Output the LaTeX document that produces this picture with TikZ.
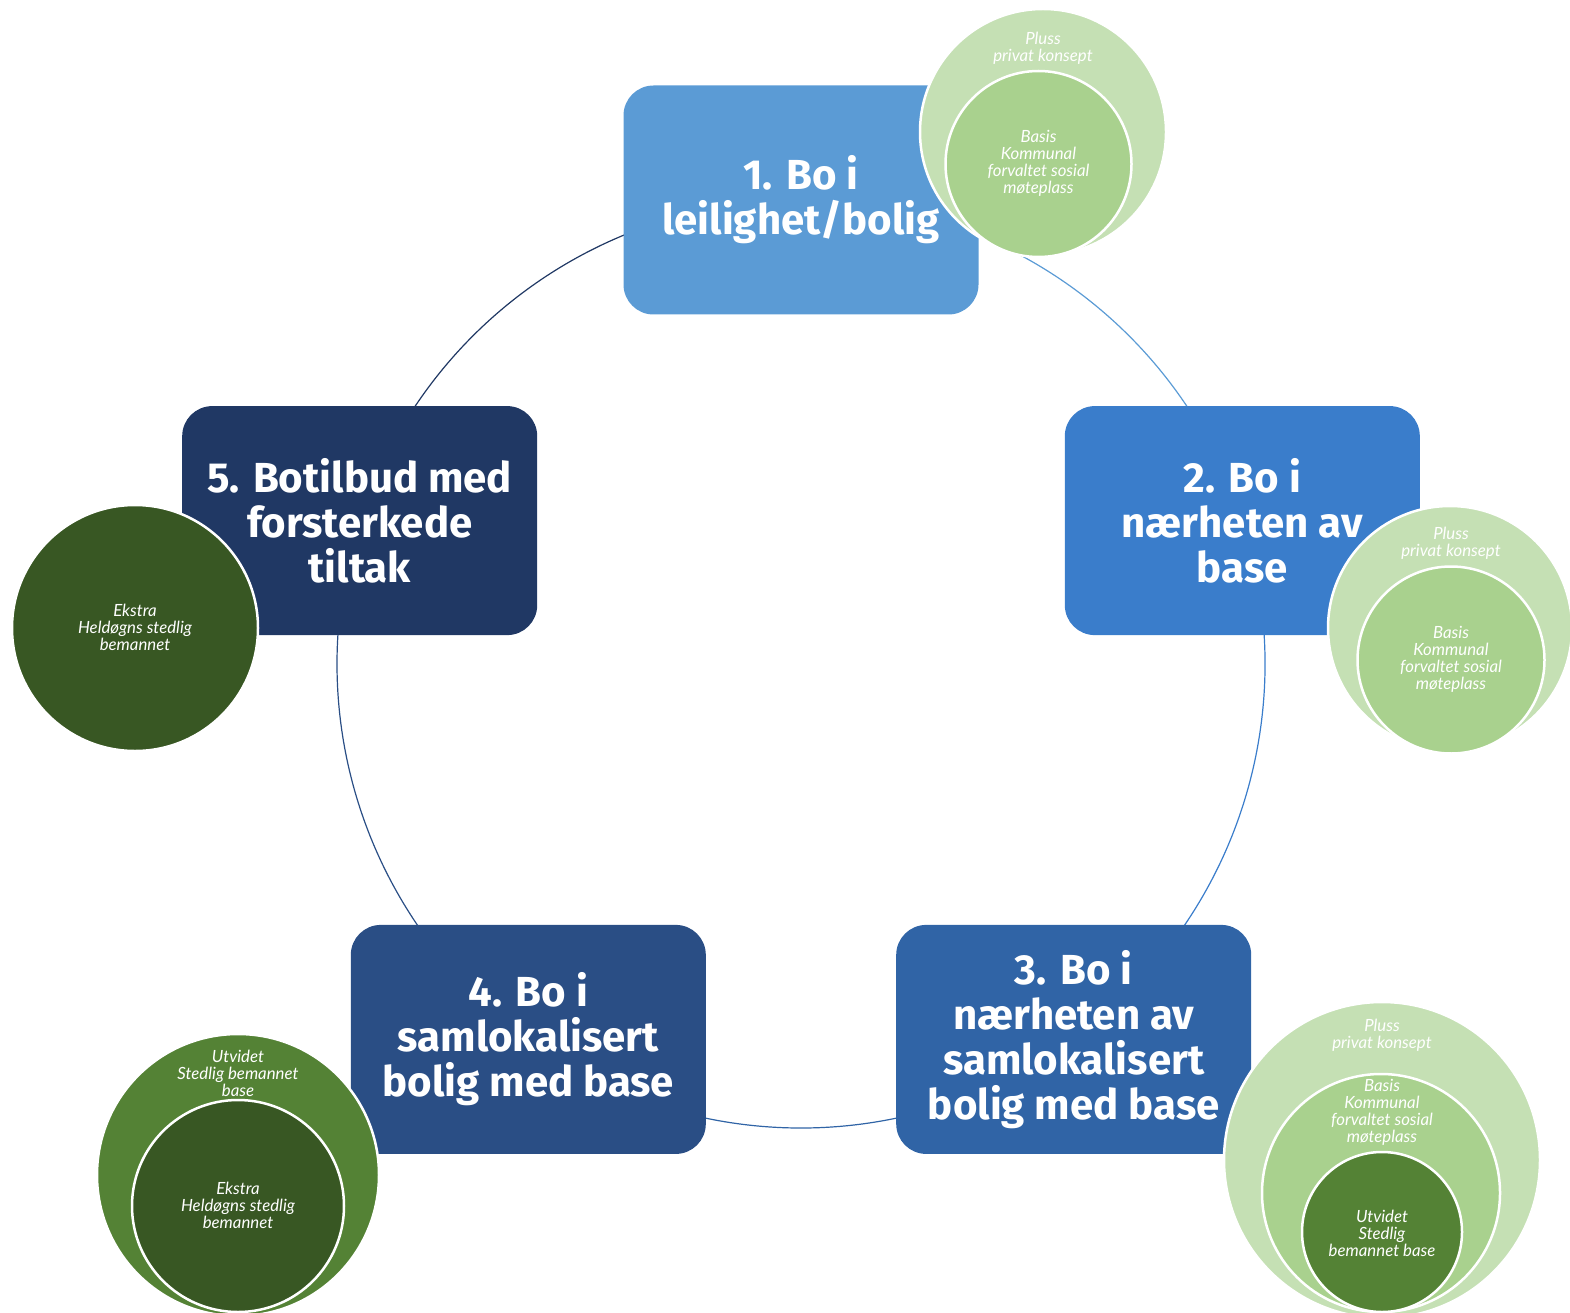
\documentclass[tikz,border=0pt]{standalone}
\usepackage{fontspec}
\setmainfont{Fira Sans}
\newfontfamily\circfont{Lato}
\usetikzlibrary{backgrounds}
\definecolor{cA}{HTML}{5B9BD5}
\definecolor{cB}{HTML}{3A7DCB}
\definecolor{cC}{HTML}{3064A6}
\definecolor{cD}{HTML}{2A4E85}
\definecolor{cE}{HTML}{203864}
\definecolor{gL}{HTML}{C5E0B4}
\definecolor{gM}{HTML}{A9D18E}
\definecolor{gD}{HTML}{548235}
\definecolor{gX}{HTML}{385723}
\begin{document}
\begin{tikzpicture}[x=1pt,y=-1pt,
  stepbox/.style={rectangle, rounded corners=30pt, minimum width=355pt, minimum height=229pt,
    inner sep=0pt, text=white, align=center, font=\fontsize{42}{45}\selectfont\bfseries},
  ring/.style={circle, draw=white, line width=2.5pt, inner sep=0pt},
  ctext/.style={text=white, align=center, inner sep=0pt,
    font=\circfont\itshape\fontsize{16.8}{17}\selectfont},
  link/.style={line width=1.2pt}]
\useasboundingbox (0,0) rectangle (1570,1313);

% step boxes
\node[stepbox, fill=cA] (b1) at (801,200) {1. Bo i\\leilighet/bolig};
\node[stepbox, fill=cB] (b2) at (1242.3,520.6) {2. Bo i\\nærheten av\\base};
\node[stepbox, fill=cC] (b3) at (1073.7,1039.4) {3. Bo i\\nærheten av\\samlokalisert\\bolig med base};
\node[stepbox, fill=cD] (b4) at (528.3,1039.4) {4. Bo i\\samlokalisert\\bolig med base};
\node[stepbox, fill=cE] (b5) at (359.7,520.6) {5. Botilbud med\\forsterkede\\tiltak};

% cycle arcs
\begin{scope}[on background layer]
\draw[link, cA] (b1.center) arc[start angle=-90, end angle=-18, radius=464];
\draw[link, cB] (b2.center) arc[start angle=-18, end angle=54, radius=464];
\draw[link, cC] (b3.center) arc[start angle=54, end angle=126, radius=464];
\draw[link, cD] (b4.center) arc[start angle=126, end angle=198, radius=464];
\draw[link, cE] (b5.center) arc[start angle=198, end angle=270, radius=464];
\end{scope}

% circles at box 1
\node[ring, fill=gL, minimum size=246pt] (p1) at (1043,132) {};
\node[ring, fill=gM, minimum size=186pt] (q1) at (1038.5,164) {};
\node[ctext] (tp1) at (1043,48) {Pluss\\privat konsept};
\node[ctext] (tq1) at (1038.5,163) {Basis\\Kommunal\\forvaltet sosial\\møteplass};

% circles at box 2
\node[ring, fill=gL, minimum size=244pt] (p2) at (1450,628) {};
\node[ring, fill=gM, minimum size=187pt] (q2) at (1451,660) {};
\node[ctext] (tp2) at (1451,543) {Pluss\\privat konsept};
\node[ctext] (tq2) at (1451,659) {Basis\\Kommunal\\forvaltet sosial\\møteplass};

% circles at box 3
\node[ring, fill=gL, minimum size=316pt] (p3) at (1382,1160) {};
\node[ring, fill=gM, minimum size=238pt] (q3) at (1381,1193) {};
\node[ring, fill=gD, minimum size=160pt] (r3) at (1382,1232) {};
\node[ctext] (tp3) at (1382,1035) {Pluss\\privat konsept};
\node[ctext] (tq3) at (1382,1112) {Basis\\Kommunal\\forvaltet sosial\\møteplass};
\node[ctext] (tr3) at (1382,1233) {Utvidet\\Stedlig\\bemannet base};

% circles at box 4
\node[ring, fill=gD, minimum size=282pt] (p4) at (238,1175) {};
\node[ring, fill=gX, minimum size=212pt] (q4) at (238,1206) {};
\node[ctext] (tp4) at (238,1073) {Utvidet\\Stedlig bemannet\\base};
\node[ctext] (tq4) at (238,1205) {Ekstra\\Heldøgns stedlig\\bemannet};

% circle at box 5
\node[ring, fill=gX, minimum size=246pt] (p5) at (135,628) {};
\node[ctext] (tp5) at (135,627) {Ekstra\\Heldøgns stedlig\\bemannet};
\end{tikzpicture}
\end{document}
